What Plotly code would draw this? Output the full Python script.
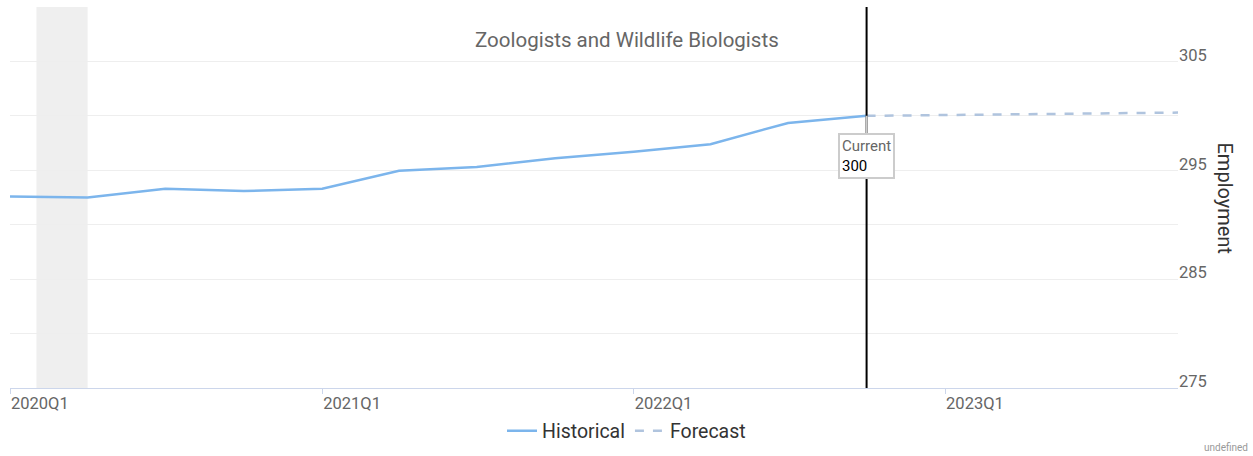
import plotly.graph_objects as go

# Data
hist_dates = ["2020-01-01", "2020-04-01", "2020-07-01", "2020-10-01",
              "2021-01-01", "2021-04-01", "2021-07-01", "2021-10-01",
              "2022-01-01", "2022-04-01", "2022-07-01", "2022-10-01"]
hist_values = [292.6, 292.5, 293.3, 293.1, 293.3, 294.95, 295.3, 296.1,
               296.7, 297.4, 299.35, 300.0]
fc_dates = ["2022-10-01", "2023-01-01", "2023-04-01", "2023-07-01", "2023-10-01"]
fc_values = [300.0, 300.08, 300.15, 300.22, 300.3]
tick_dates = ["2020-01-01", "2021-01-01", "2022-01-01", "2023-01-01"]
tick_labels = ["2020Q1", "2021Q1", "2022Q1", "2023Q1"]
recession = ("2020-02-01", "2020-04-01")
current_date = "2022-10-01"
current_value = 300
title_text = "Zoologists and Wildlife Biologists"

FONT = "Roboto"
PL, PR, PT, PB = 10, 1178, 7, 388   # plot area in pixels
PW, PH = PR - PL, PB - PT


def px_x(x):
    return (x - PL) / PW


def px_y(y):
    return (PB - y) / PH


fig = go.Figure()
fig.add_trace(go.Scatter(x=hist_dates, y=hist_values, mode="lines", name="Historical",
                         line=dict(color="#7cb5ec", width=2.5)))
fig.add_trace(go.Scatter(x=fc_dates, y=fc_values, mode="lines", name="Forecast",
                         line=dict(color="#b0c4de", width=2.5, dash="dash")))

fig.add_shape(type="rect", xref="x", yref="paper", x0=recession[0], x1=recession[1],
              y0=0, y1=1, fillcolor="#efefef", line_width=0, layer="below")
fig.add_shape(type="line", xref="x", yref="paper", x0=current_date, x1=current_date,
              y0=0, y1=1, line=dict(color="black", width=2))

fig.add_annotation(x=current_date, y=current_value, xref="x", yref="y",
                   text="<span style='color:#666666'>Current</span><br>300",
                   showarrow=True, arrowhead=0, arrowcolor="#cccccc", arrowwidth=2,
                   ax=0, ay=40, align="left", bgcolor="white",
                   bordercolor="#cccccc", borderwidth=2, borderpad=2,
                   font=dict(family=FONT, size=15, color="black"))

fig.add_annotation(x=px_x(627), y=px_y(40), xref="paper", yref="paper",
                   text=title_text, showarrow=False, xanchor="center", yanchor="middle",
                   font=dict(family=FONT, size=20.5, color="#666666"))

fig.add_annotation(x=px_x(1225), y=0.5, xref="paper", yref="paper",
                   text="Employment", showarrow=False, textangle=90,
                   xanchor="center", yanchor="middle",
                   font=dict(family=FONT, size=20, color="#333333"))

fig.add_annotation(x=px_x(1250), y=px_y(455), xref="paper", yref="paper",
                   text="undefined", showarrow=False, xanchor="right", yanchor="bottom",
                   font=dict(family=FONT, size=10, color="#999999"))

fig.update_layout(
    width=1253, height=456,
    margin=dict(l=PL, r=1253 - PR, t=PT, b=456 - PB, autoexpand=False),
    paper_bgcolor="white", plot_bgcolor="white",
    font=dict(family=FONT, color="#666666"),
    showlegend=True,
    legend=dict(orientation="h", xref="container", yref="container",
                x=0.5, xanchor="center", y=25 / 456, yanchor="middle",
                font=dict(family=FONT, size=19.5, color="#333333"), itemwidth=30),
    xaxis=dict(type="date", range=["2020-01-01", "2023-10-01"],
               tickvals=tick_dates, ticktext=tick_labels,
               ticklabelposition="outside right", automargin=False,
               ticks="outside", ticklen=5, tickcolor="#ccd6eb",
               showline=True, linecolor="#ccd6eb", linewidth=1,
               showgrid=False, zeroline=False,
               tickfont=dict(family=FONT, size=16.5, color="#666666")),
    yaxis=dict(side="right", range=[275, 310], tick0=275, dtick=10,
               ticklabelposition="outside top", ticklabelshift=5, automargin=False,
               showgrid=True, gridcolor="#eeeeee", gridwidth=1,
               minor=dict(dtick=5, tick0=275, showgrid=True, gridcolor="#eeeeee"),
               zeroline=False, showline=False,
               tickfont=dict(family=FONT, size=16.5, color="#666666")),
    hovermode="x",
)

fig.write_html("out.html", config={"displayModeBar": False},
               post_script="document.body.style.margin='0px';")
